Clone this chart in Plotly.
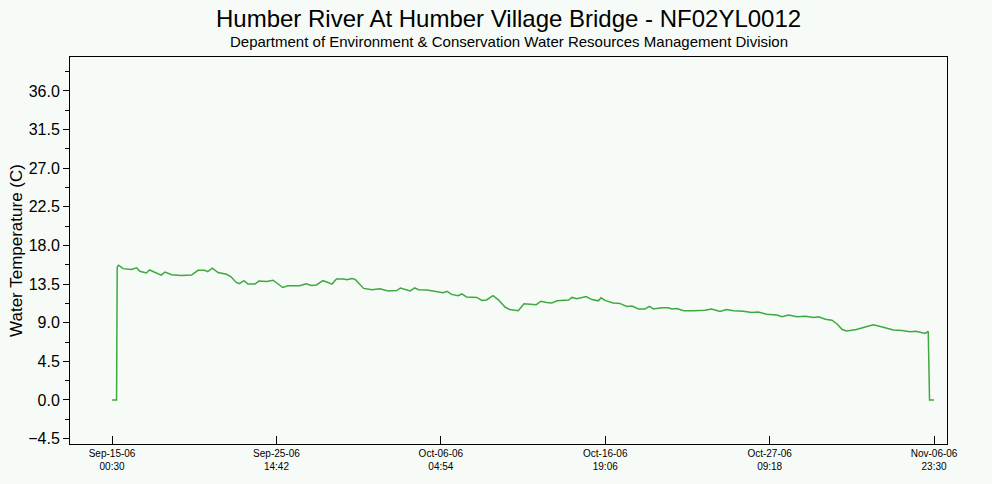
import datetime as dt
import plotly.graph_objects as go

# Water temperature readings, hours after the first reading (Sep-15-06 00:30)
start = dt.datetime(2006, 9, 15, 0, 30)
hours = [0, 7, 8, 10, 12, 17, 30, 38, 43, 53, 58, 66, 76, 82, 92, 107, 123, 133,
         143, 148, 155, 164, 177, 184, 192, 197, 204, 210, 221, 227, 239, 249,
         257, 264, 272, 290, 300, 308, 316, 326, 332, 340, 347, 358, 363, 371,
         376, 389, 402, 414, 427, 440, 446, 456, 461, 468, 474, 487, 502, 512,
         518, 525, 535, 541, 548, 564, 572, 579, 589, 597, 608, 615, 628, 637,
         656, 663, 672, 680, 688, 698, 706, 711, 719, 733, 742, 752, 756, 762,
         775, 785, 796, 804, 814, 824, 831, 837, 850, 860, 866, 873, 884, 899,
         917, 927, 940, 950, 961, 976, 989, 999, 1012, 1028, 1036, 1046, 1059,
         1072, 1085, 1092, 1103, 1113, 1121, 1129, 1136, 1151, 1162, 1177, 1191,
         1208, 1221, 1234, 1243, 1257, 1262, 1263, 1264, 1271]
temps = [0.0, 0.0, 15.5, 15.7, 15.6, 15.3, 15.2, 15.4, 15.0, 14.8, 15.15, 14.85,
         14.55, 14.9, 14.6, 14.5, 14.55, 15.1, 15.1, 14.95, 15.35, 14.85, 14.65,
         14.35, 13.7, 13.55, 13.9, 13.5, 13.5, 13.85, 13.8, 13.95, 13.45, 13.1,
         13.3, 13.3, 13.55, 13.35, 13.4, 13.9, 13.75, 13.5, 14.1, 14.1, 14.0,
         14.15, 14.05, 13.0, 12.85, 12.95, 12.7, 12.75, 13.05, 12.85, 12.7, 13.05,
         12.85, 12.8, 12.65, 12.5, 12.65, 12.3, 12.15, 12.35, 12.0, 11.95, 11.6,
         11.65, 12.15, 11.7, 10.8, 10.55, 10.4, 11.2, 11.1, 11.5, 11.35, 11.3,
         11.55, 11.6, 11.65, 11.95, 11.8, 12.05, 11.7, 11.55, 11.9, 11.6, 11.3,
         11.25, 10.9, 10.95, 10.6, 10.6, 10.9, 10.6, 10.75, 10.75, 10.6, 10.65,
         10.4, 10.4, 10.45, 10.6, 10.3, 10.55, 10.4, 10.35, 10.2, 10.25, 10.0,
         9.9, 9.7, 9.9, 9.7, 9.75, 9.6, 9.7, 9.4, 9.3, 8.85, 8.2, 8.05, 8.2, 8.4,
         8.75, 8.5, 8.15, 8.1, 7.95, 8.0, 7.75, 8.0, 4.0, 0.0, 0.0]

tick_dates = [dt.datetime(2006, 9, 15, 0, 30), dt.datetime(2006, 9, 25, 14, 42),
              dt.datetime(2006, 10, 6, 4, 54), dt.datetime(2006, 10, 16, 19, 6),
              dt.datetime(2006, 10, 27, 9, 18), dt.datetime(2006, 11, 6, 23, 30)]
tick_text = ["Sep-15-06<br>00:30", "Sep-25-06<br>14:42", "Oct-06-06<br>04:54",
             "Oct-16-06<br>19:06", "Oct-27-06<br>09:18", "Nov-06-06<br>23:30"]

times = [start + dt.timedelta(hours=h) for h in hours]

bg = "#F7FBF7"
font = "Liberation Sans, Arial, sans-serif"

fig = go.Figure()
fig.add_trace(go.Scatter(
    x=times, y=temps,
    mode="lines",
    line=dict(color="#3FA83F", width=1.5),
    hoverinfo="x+y",
    showlegend=False,
))

fig.update_layout(
    width=992, height=484,
    margin=dict(l=70, r=45, t=57, b=40),
    paper_bgcolor=bg, plot_bgcolor=bg,
    font=dict(family=font, color="#000000"),
    xaxis=dict(
        range=[start - dt.timedelta(hours=65), tick_dates[-1] + dt.timedelta(hours=20)],
        tickvals=tick_dates, ticktext=tick_text,
        ticks="inside", ticklen=8, tickcolor="#000000",
        showline=True, linecolor="#000000", linewidth=1, mirror=True,
        showgrid=False, zeroline=False,
        tickfont=dict(size=10),
    ),
    yaxis=dict(
        title=dict(text="Water Temperature (C)", font=dict(size=17), standoff=1),
        range=[-5.13, 39.96],
        tick0=0, dtick=4.5, tickformat=".1f",
        ticks="outside", ticklen=6, tickcolor="#000000",
        minor=dict(dtick=2.25, tick0=0, ticks="outside", ticklen=4, tickcolor="#000000"),
        showline=True, linecolor="#000000", linewidth=1, mirror=True,
        showgrid=False, zeroline=False,
        tickfont=dict(size=16),
    ),
    annotations=[
        dict(text="Humber River At Humber Village Bridge - NF02YL0012",
             xref="paper", yref="paper", x=0.5, y=1, yshift=39,
             showarrow=False, yanchor="middle", font=dict(size=24)),
        dict(text="Department of Environment &amp; Conservation Water Resources Management Division",
             xref="paper", yref="paper", x=0.5, y=1, yshift=16,
             showarrow=False, yanchor="middle", font=dict(size=15)),
    ],
)

# drop the browser's default body margin so the figure sits at the window corner
fig.write_html("out.html", config={"displayModeBar": False},
               post_script="document.body.style.margin = '0';")
